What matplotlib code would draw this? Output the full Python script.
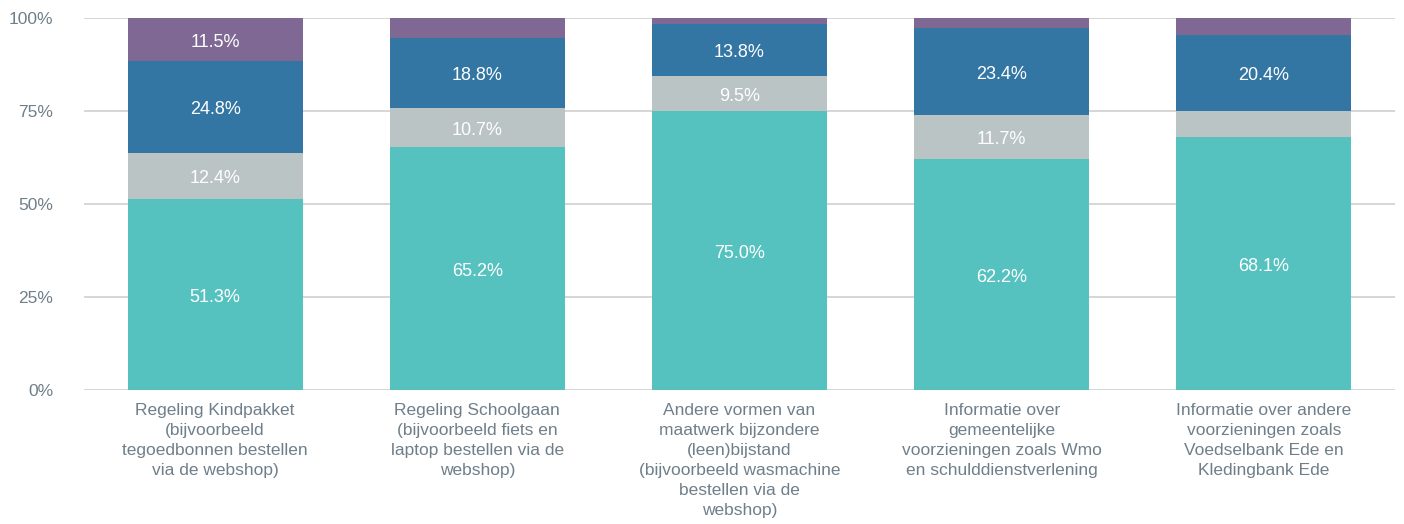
import matplotlib
matplotlib.use('Agg')
import matplotlib.pyplot as plt
from matplotlib.ticker import FuncFormatter
import numpy as np

plt.rcParams['font.family'] = ['Liberation Sans', 'DejaVu Sans']

categories = [
    'Regeling Kindpakket\n(bijvoorbeeld\ntegoedbonnen bestellen\nvia de webshop)',
    'Regeling Schoolgaan\n(bijvoorbeeld fiets en\nlaptop bestellen via de\nwebshop)',
    'Andere vormen van\nmaatwerk bijzondere\n(leen)bijstand\n(bijvoorbeeld wasmachine\nbestellen via de\nwebshop)',
    'Informatie over\ngemeentelijke\nvoorzieningen zoals Wmo\nen schulddienstverlening',
    'Informatie over andere\nvoorzieningen zoals\nVoedselbank Ede en\nKledingbank Ede',
]
seg1 = [51.3, 65.2, 75.0, 62.2, 68.1]
seg2 = [12.4, 10.7, 9.5, 11.7, 6.9]
seg3 = [24.8, 18.8, 13.8, 23.4, 20.4]
seg4 = [11.5, 5.3, 1.7, 2.7, 4.6]

series = [seg1, seg2, seg3, seg4]
colors = ['#56c2c0', '#bac4c5', '#3376a3', '#7f6994']
text_color = '#6f7f8a'

fig, ax = plt.subplots(figsize=(14.04, 5.24), dpi=100)
fig.subplots_adjust(left=0.0598, right=0.9936, top=0.9656, bottom=0.2557)

x = np.arange(len(categories))
bottom = np.zeros(len(categories))
for vals, col in zip(series, colors):
    vals = np.array(vals)
    ax.bar(x, vals, width=0.667, bottom=bottom, color=col, zorder=3)
    # only label segments that are big enough, like the original
    for xi, b, v in zip(x, bottom, vals):
        if v >= 8:
            ax.annotate(f'{v:.1f}%', (xi, b + v / 2), xytext=(0, -2),
                        textcoords='offset points', ha='center', va='center',
                        color='white', fontsize=13, zorder=4)
    bottom += vals

ax.set_xlim(-0.5, 4.5)
ax.set_ylim(0, 100)
ax.set_yticks([0, 25, 50, 75, 100])
ax.yaxis.set_major_formatter(FuncFormatter(lambda v, p: f'{v:.0f}%'))
ax.set_xticks(x)
ax.set_xticklabels(categories, fontsize=12.5, color=text_color, linespacing=1.42)
ax.tick_params(axis='y', labelsize=12.5, labelcolor=text_color, length=0, pad=22)
ax.tick_params(axis='x', length=0, pad=9)
ax.grid(axis='y', color='#d0d0d0', linewidth=1.2, zorder=0)
for s in ax.spines.values():
    s.set_visible(False)

plt.savefig('out.png', dpi=100)
